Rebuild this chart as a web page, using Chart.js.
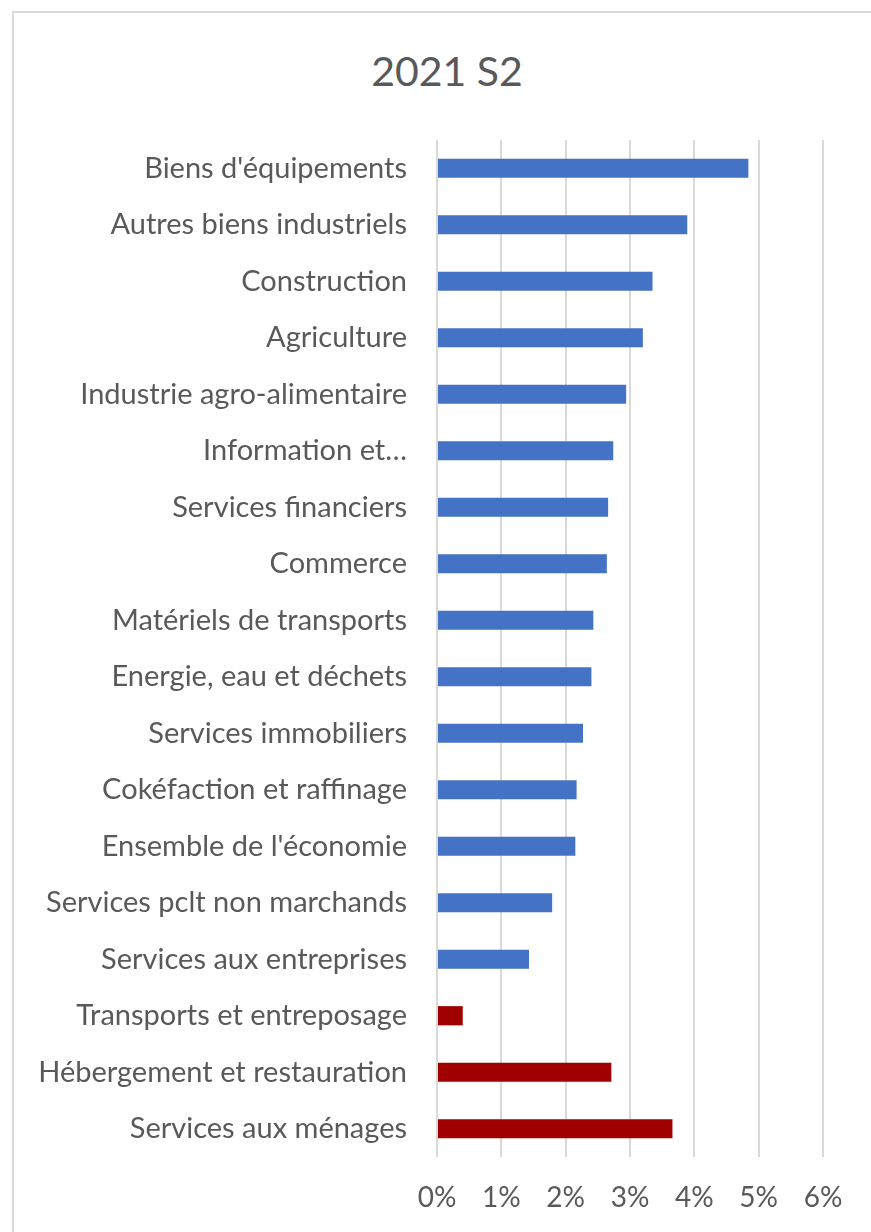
<!DOCTYPE html>
<html lang="fr">
<head>
<meta charset="utf-8">
<title>2021 S2</title>
<script src="https://cdn.jsdelivr.net/npm/chart.js@4/dist/chart.umd.min.js"></script>
<style>
  html, body { margin: 0; padding: 0; background: #ffffff; }
  #wrap { position: relative; width: 871px; height: 1232px; overflow: hidden; }
  #frame {
    position: absolute; left: 12px; top: 11px; width: 870px; height: 1300px;
    border: 2px solid #d9d9d9; box-sizing: border-box; pointer-events: none;
  }
  #titre {
    position: absolute; left: 12px; top: 46px; width: 870px; margin: 0;
    text-align: center; font: normal 41px/49px Lato, "Open Sans", sans-serif;
    color: #595959;
  }
  canvas { position: absolute; left: 0; top: 0; }
</style>
</head>
<body>
<div id="wrap">
  <div id="frame"></div>
  <h1 id="titre">2021 S2</h1>
  <canvas id="chart" width="871" height="1232"></canvas>
</div>
<script>
// Secteurs, du haut vers le bas
const secteurs = [
  "Biens d'équipements",
  "Autres biens industriels",
  "Construction",
  "Agriculture",
  "Industrie agro-alimentaire",
  "Information et…",
  "Services financiers",
  "Commerce",
  "Matériels de transports",
  "Energie, eau et déchets",
  "Services immobiliers",
  "Cokéfaction et raffinage",
  "Ensemble de l'économie",
  "Services pclt non marchands",
  "Services aux entreprises",
  "Transports et entreposage",
  "Hébergement et restauration",
  "Services aux ménages"
];

// Valeurs 2021 S2, en %
const valeurs = [
  4.84, 3.89, 3.35, 3.20, 2.94, 2.74, 2.66, 2.64, 2.43,
  2.40, 2.27, 2.17, 2.15, 1.79, 1.43, 0.40, 2.71, 3.66
];

// Secteurs mis en évidence (barres rouges)
const secteursMisEnEvidence = [
  "Transports et entreposage",
  "Hébergement et restauration",
  "Services aux ménages"
];

// Graduations de l'axe horizontal, en %
const graduations = [0, 1, 2, 3, 4, 5, 6];

const BLEU = '#4472C4';
const ROUGE = '#A00000';
const GRIS_TEXTE = '#595959';
const FONT = 'Lato, "Open Sans", sans-serif';

// Zone de tracé
const HAUT_TRACE = 140;
const BAS_TRACE = 1157;
const BORD_GAUCHE_TRACE = 437;
const MARGE_DROITE = 48;
const HAUTEUR = 1232;

const couleurs = secteurs.map(s => secteursMisEnEvidence.includes(s) ? ROUGE : BLEU);

new Chart(document.getElementById('chart'), {
  type: 'bar',
  data: {
    labels: secteurs,
    datasets: [{
      data: valeurs,
      backgroundColor: couleurs,
      borderWidth: 0,
      barPercentage: 0.34,
      categoryPercentage: 1.0
    }]
  },
  options: {
    indexAxis: 'y',
    responsive: false,
    animation: false,
    devicePixelRatio: 1,
    layout: { padding: { top: HAUT_TRACE, right: MARGE_DROITE, bottom: 0, left: 0 } },
    plugins: {
      legend: { display: false },
      tooltip: { enabled: false },
      title: { display: false }
    },
    scales: {
      x: {
        min: graduations[0],
        max: graduations[graduations.length - 1],
        afterBuildTicks: (scale) => { scale.ticks = graduations.map(v => ({ value: v })); },
        afterFit: (scale) => { scale.height = HAUTEUR - BAS_TRACE; },
        border: { display: false },
        grid: { color: '#d9d9d9', lineWidth: 2, drawTicks: false },
        ticks: {
          color: GRIS_TEXTE,
          padding: 24,
          font: { family: FONT, size: 28 },
          callback: (v) => v + '%'
        }
      },
      y: {
        afterFit: (scale) => { scale.width = BORD_GAUCHE_TRACE; },
        border: { display: false },
        grid: { display: false, drawTicks: false },
        ticks: {
          color: GRIS_TEXTE,
          padding: 30,
          autoSkip: false,
          font: { family: FONT, size: 29 }
        }
      }
    }
  }
});
</script>
</body>
</html>
